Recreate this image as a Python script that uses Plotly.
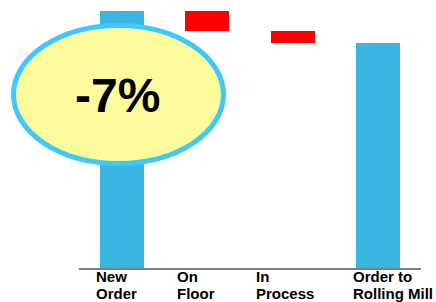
import plotly.graph_objects as go

# ---- data ----
categories = ["New\nOrder", "On\nFloor", "In\nProcess", "Order to\nRolling Mill"]
start_value = 100.0
changes = [-7.8, -4.7]
callout_text = "-7%"

# ---- derived waterfall geometry from data ----
levels = [start_value]
for c in changes:
    levels.append(levels[-1] + c)
final_value = levels[-1]

xs = list(range(len(categories)))
bases = [0, levels[0], levels[1], 0]
heights = [start_value, changes[0], changes[1], final_value]

BLUE = "#3AB6E3"
RED = "#FF0000"
colors = [BLUE, RED, RED, BLUE]

fig = go.Figure()
fig.add_trace(go.Bar(
    x=xs, y=heights, base=bases, width=0.516,
    marker=dict(color=colors, line=dict(width=0)),
    hoverinfo="skip", showlegend=False,
))

FONT = "Liberation Sans, Arial, Helvetica, sans-serif"
label_xshift = [-27.5, -32.5, -38.5, -27.5]
annotations = []
for i, cat in enumerate(categories):
    l1, l2 = cat.split("\n")
    for j, line in enumerate([l1, l2]):
        annotations.append(dict(
            x=i, xref="x", y=0, yref="paper",
            xanchor="left", yanchor="top",
            xshift=label_xshift[i], yshift=2 - 17 * j,
            text="<b>%s</b>" % line, showarrow=False,
            font=dict(family=FONT, size=15, color="black"),
            align="left",
        ))

annotations.append(dict(
    x=0.114, y=0.673, xref="paper", yref="paper",
    xanchor="center", yanchor="middle",
    text="<b>%s</b>" % callout_text, showarrow=False,
    font=dict(family=FONT, size=48, color="black"),
))

fig.update_layout(
    width=436, height=302,
    margin=dict(l=79, r=15, t=11, b=34),
    paper_bgcolor="white", plot_bgcolor="white",
    xaxis=dict(range=[-0.5, 3.5], showticklabels=False, showgrid=False,
               zeroline=False, showline=True, linecolor="#808080",
               linewidth=2, ticks="", fixedrange=True),
    yaxis=dict(range=[0, 100], visible=False, showgrid=False, zeroline=False,
               fixedrange=True),
    shapes=[dict(type="circle", xref="paper", yref="paper",
                 x0=-0.1915, x1=0.4225, y0=0.4066, y1=0.9436,
                 fillcolor="#FCFC9C", line=dict(color="#40C8F8", width=5),
                 layer="above")],
    annotations=annotations,
    bargap=0,
)

fig.write_html("out.html",
               config={"displayModeBar": False, "staticPlot": True},
               post_script="document.body.style.margin='0px';document.body.style.overflow='hidden';")
